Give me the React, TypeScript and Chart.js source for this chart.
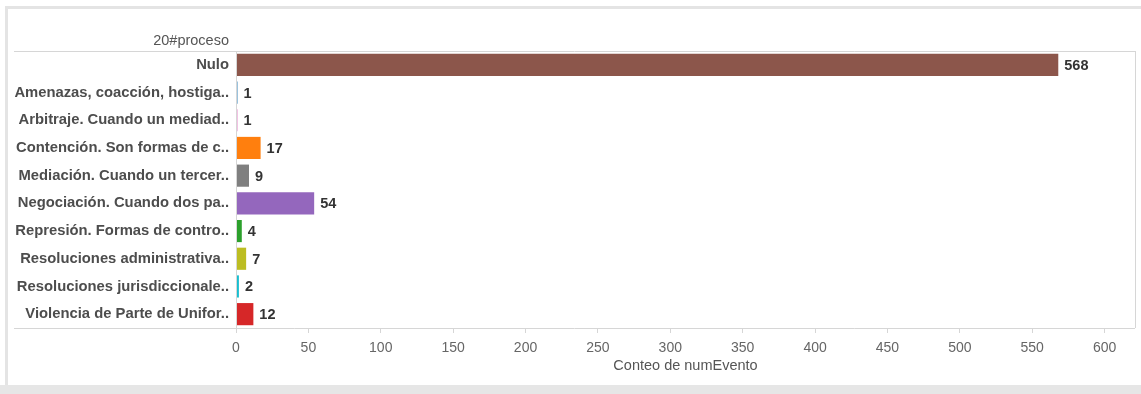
import React, { useEffect, useRef } from "react";
import { Chart, registerables } from "chart.js";

Chart.register(...registerables);

// Categories of "20#proceso" and their event counts
const categories: string[] = [
  "Nulo",
  "Amenazas, coacción, hostiga..",
  "Arbitraje. Cuando un mediad..",
  "Contención. Son formas de c..",
  "Mediación. Cuando un tercer..",
  "Negociación. Cuando dos pa..",
  "Represión. Formas de contro..",
  "Resoluciones administrativa..",
  "Resoluciones jurisdiccionale..",
  "Violencia de Parte de Unifor..",
];
const counts: number[] = [568, 1, 1, 17, 9, 54, 4, 7, 2, 12];
const barColors: string[] = [
  "#8c564b",
  "#1f77b4",
  "#e377c2",
  "#ff7f0e",
  "#7f7f7f",
  "#9467bd",
  "#2ca02c",
  "#bcbd22",
  "#17becf",
  "#d62728",
];
const headerLabel = "20#proceso";
const axisTitle = "Conteo de numEvento";
const xMax = 621;
const xStep = 50;

const FONT = "'Liberation Sans', Arial, sans-serif";
const LINE = "#d6d6d6";

// Frame lines, header text and value labels
const decorations = {
  id: "decorations",
  afterDatasetsDraw(chart: any) {
    const { ctx, chartArea } = chart;
    const { left, right, top, bottom } = chartArea;
    const rowStart = 6;
    ctx.save();
    ctx.strokeStyle = LINE;
    ctx.lineWidth = 1;
    ctx.beginPath();
    ctx.moveTo(rowStart, Math.round(top) + 0.5);
    ctx.lineTo(right, Math.round(top) + 0.5);
    ctx.moveTo(rowStart, Math.round(bottom) + 0.5);
    ctx.lineTo(right, Math.round(bottom) + 0.5);
    ctx.moveTo(Math.round(right) + 0.5, top);
    ctx.lineTo(Math.round(right) + 0.5, bottom);
    ctx.moveTo(Math.round(left) + 0.5, top);
    ctx.lineTo(Math.round(left) + 0.5, bottom);
    ctx.stroke();

    // header above the category column
    ctx.font = `14.5px ${FONT}`;
    ctx.fillStyle = "#555555";
    ctx.textAlign = "right";
    ctx.textBaseline = "middle";
    ctx.fillText(headerLabel, left - 7, top - 10);

    // value labels at bar ends
    const meta = chart.getDatasetMeta(0);
    ctx.font = `bold 14.5px ${FONT}`;
    ctx.fillStyle = "#333333";
    ctx.textAlign = "left";
    meta.data.forEach((bar: any, i: number) => {
      ctx.fillText(String(counts[i]), bar.x + 6, bar.y + 1);
    });
    ctx.restore();
  },
};

export default function App() {
  const canvasRef = useRef<HTMLCanvasElement | null>(null);

  useEffect(() => {
    const canvas = canvasRef.current;
    if (!canvas) return;
    const chart = new Chart(canvas, {
      type: "bar",
      data: {
        labels: categories,
        datasets: [
          {
            data: counts,
            backgroundColor: barColors,
            borderWidth: 0,
            barPercentage: 0.8,
            categoryPercentage: 1,
          },
        ],
      },
      options: {
        indexAxis: "y",
        animation: false,
        responsive: false,
        maintainAspectRatio: false,
        layout: { padding: { top: 42, right: 6, left: 0, bottom: 0 } },
        plugins: {
          legend: { display: false },
          tooltip: { enabled: false },
        },
        scales: {
          y: {
            grid: { display: false, drawTicks: false },
            border: { display: false },
            ticks: {
              padding: 7,
              crossAlign: "near",
              color: "#4d4d4d",
              font: { family: FONT, size: 14.8, weight: "bold" },
              autoSkip: false,
            },
            afterFit(scale: any) {
              scale.width = 228;
            },
          },
          x: {
            min: 0,
            max: xMax,
            grid: {
              drawOnChartArea: false,
              drawTicks: true,
              tickLength: 5,
              color: LINE,
            },
            border: { display: false },
            ticks: {
              stepSize: xStep,
              includeBounds: false,
              padding: 7,
              maxRotation: 0,
              color: "#666666",
              font: { family: FONT, size: 14 },
            },
            title: {
              display: true,
              text: axisTitle,
              color: "#555555",
              font: { family: FONT, size: 14.5 },
              padding: { top: 0, bottom: 10 },
            },
            afterFit(scale: any) {
              scale.height = 57;
            },
          },
        },
      },
      plugins: [decorations],
    });
    return () => chart.destroy();
  }, []);

  return (
    <div
      style={{
        position: "absolute",
        left: 0,
        top: 0,
        width: 1141,
        height: 394,
        background: "#ffffff",
        overflow: "hidden",
      }}
    >
      <div style={{ position: "absolute", left: 5, top: 6, width: 1136, height: 3, background: "#e4e4e4" }} />
      <div style={{ position: "absolute", left: 5, top: 6, width: 3, height: 379, background: "#e4e4e4" }} />
      <div style={{ position: "absolute", left: 0, top: 385, width: 1141, height: 9, background: "#e6e6e6" }} />
      <canvas
        ref={canvasRef}
        width={1133}
        height={376}
        style={{ position: "absolute", left: 8, top: 9, width: 1133, height: 376 }}
      />
    </div>
  );
}
